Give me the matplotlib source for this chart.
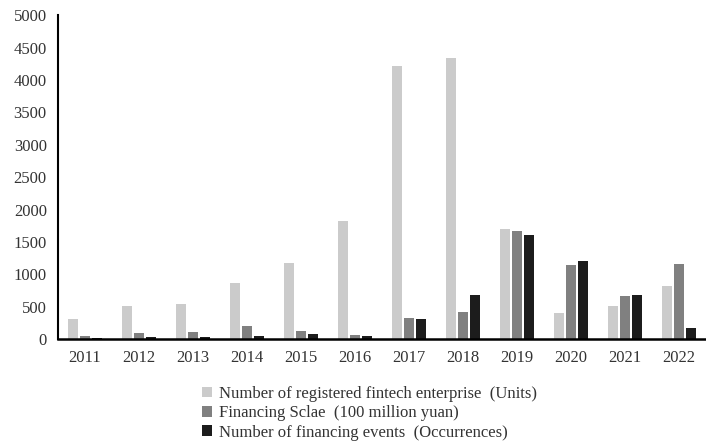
import numpy as np
import matplotlib
matplotlib.use("Agg")
import matplotlib.pyplot as plt

years = ['2011', '2012', '2013', '2014', '2015', '2016',
         '2017', '2018', '2019', '2020', '2021', '2022']
registered = [310, 515, 545, 870, 1180, 1825, 4215, 4335, 1700, 405, 515, 820]
financing_scale = [55, 93, 108, 205, 128, 66, 324, 421, 1670, 1146, 673, 1157]
financing_events = [20, 35, 35, 46, 87, 55, 309, 683, 1609, 1208, 683, 174]

series_names = ['Number of registered fintech enterprise\u2002(Units)',
                'Financing Sclae\u2002(100 million yuan)',
                'Number of financing events\u2002(Occurrences)']
colors = ['#cbcbcb', '#808080', '#1c1c1c']

plt.rcParams['font.family'] = ['Liberation Serif', 'DejaVu Serif']

fig = plt.figure(figsize=(7.06, 4.44), dpi=100)
ax = fig.add_axes([0.082, 0.236, 0.918, 0.73])

x = np.arange(len(years))
w = 0.185
step = 0.22
for i, (vals, name, c) in enumerate(zip([registered, financing_scale, financing_events],
                                        series_names, colors)):
    ax.bar(x + (i - 1) * step, vals, width=w, color=c, label=name)

ax.set_xlim(-0.5, len(years) - 0.5)
ax.set_ylim(0, 5000)
ax.set_yticks(range(0, 5001, 500))
ax.set_xticks(x)
ax.set_xticklabels(years)
ax.tick_params(axis='both', length=0, labelsize=12, colors='#333333')
ax.tick_params(axis='x', pad=8)
ax.tick_params(axis='y', pad=8)
for s in ['top', 'right']:
    ax.spines[s].set_visible(False)
ax.spines['left'].set_linewidth(1.5)
ax.spines['bottom'].set_linewidth(1.8)

fig.legend(loc='upper left', bbox_to_anchor=(0.286, 0.131), frameon=False,
           fontsize=12, handlelength=0.6, handleheight=0.6, handletextpad=0.45,
           labelspacing=0.2, borderaxespad=0, borderpad=0,
           labelcolor='#333333')

fig.savefig('out.png', dpi=100)
